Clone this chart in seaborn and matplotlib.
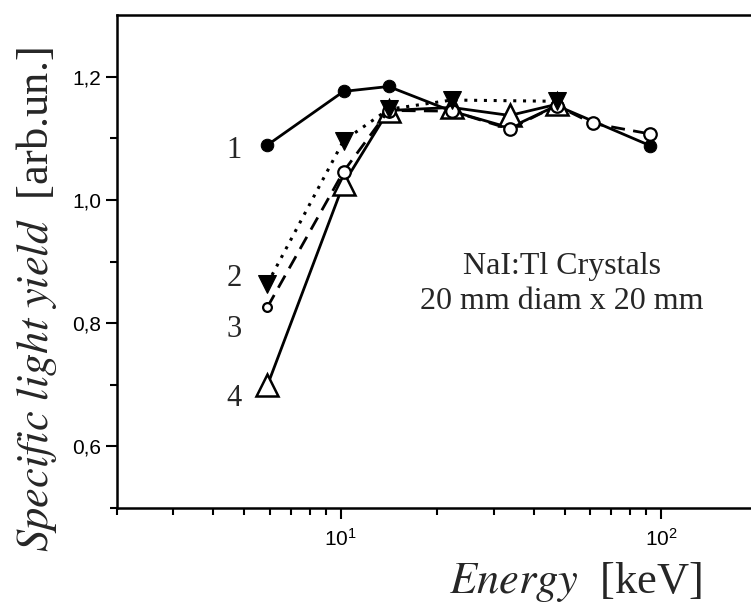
import numpy as np
import pandas as pd
import matplotlib
matplotlib.use("Agg")
import matplotlib.pyplot as plt
import matplotlib.ticker as mticker
import seaborn as sns

# ---- data ----
e1 = [5.9, 10.2, 14.1, 22.2, 33.7, 47.2, 92.5]
y1 = [1.089, 1.176, 1.184, 1.144, 1.117, 1.153, 1.088]

e2 = [5.9, 10.2, 14.1, 22.2, 47.2]
y2 = [0.864, 1.096, 1.147, 1.162, 1.160]

e3 = [5.9, 10.2, 14.1, 22.2, 33.7, 47.2, 61.3, 92.5]
y3 = [0.826, 1.046, 1.145, 1.144, 1.115, 1.153, 1.124, 1.107]

e4 = [5.9, 10.2, 14.1, 22.2, 33.7, 47.2]
y4 = [0.699, 1.026, 1.145, 1.150, 1.137, 1.155]

curve_labels = ["1", "2", "3", "4"]
curve_label_y = [1.080, 0.873, 0.790, 0.678]
curve_label_x = 4.9

annotation = "NaI:Tl Crystals\n20 mm diam x 20 mm"
yticks_major = [0.6, 0.8, 1.0, 1.2]
ytick_labels = ["0,6", "0,8", "1,0", "1,2"]
yticks_minor = [0.5, 0.7, 0.9, 1.1]

sns.set_theme(style="ticks")
plt.rcParams["font.family"] = ["Liberation Sans", "DejaVu Sans"]
plt.rcParams["mathtext.fontset"] = "stix"

fig = plt.figure(figsize=(7.51, 6.08), dpi=100)
ax = fig.add_axes([117 / 751, 100 / 608, (751 - 117) / 751, 493 / 608])

df1 = pd.DataFrame({"E": e1, "Y": y1})
df2 = pd.DataFrame({"E": e2, "Y": y2})
df3 = pd.DataFrame({"E": e3, "Y": y3})
df4 = pd.DataFrame({"E": e4, "Y": y4})

sns.lineplot(data=df4, x="E", y="Y", ax=ax, color="black", lw=2.0,
             marker="^", markersize=16, markerfacecolor="white",
             markeredgecolor="black", markeredgewidth=1.8, zorder=3)
sns.lineplot(data=df3, x="E", y="Y", ax=ax, color="black", lw=2.0,
             linestyle=(0, (5, 3)), marker="o", markersize=9,
             markevery=list(range(1, len(e3))),
             markerfacecolor="white", markeredgecolor="black",
             markeredgewidth=1.6, zorder=4)
sns.scatterplot(data=df3.iloc[:1], x="E", y="Y", ax=ax, marker="o", s=40,
                facecolor="white", edgecolor="black", linewidth=1.6, zorder=4)
sns.lineplot(data=df2, x="E", y="Y", ax=ax, color="black", lw=2.2,
             linestyle=(0, (1, 2.2)), marker="v", markersize=13,
             markerfacecolor="black", markeredgecolor="black", zorder=5)
sns.lineplot(data=df1, x="E", y="Y", ax=ax, color="black", lw=2.0,
             marker="o", markersize=9, markerfacecolor="black",
             markeredgecolor="black", zorder=2)

ax.set_xscale("log")
ax.set_xlim(2, 10 ** 2.28125)
ax.set_ylim(0.5, 1.3)

ax.xaxis.set_major_locator(mticker.LogLocator(base=10, numticks=10))
ax.xaxis.set_minor_locator(mticker.LogLocator(base=10, subs=np.arange(2, 10), numticks=20))
ax.xaxis.set_major_formatter(mticker.FuncFormatter(
    lambda v, p: r"$\mathregular{10^{%d}}$" % int(round(np.log10(v)))))
ax.xaxis.set_minor_formatter(mticker.NullFormatter())

ax.set_yticks(yticks_major)
ax.set_yticklabels(ytick_labels)
ax.yaxis.set_minor_locator(mticker.FixedLocator(yticks_minor))

ax.tick_params(axis="both", which="major", direction="out", length=8, width=1.5,
               labelsize=15, color="black", labelcolor="black")
ax.tick_params(axis="both", which="minor", direction="out", length=5, width=1.5,
               color="black")
ax.tick_params(axis="x", which="major", pad=6)

for s in ["left", "bottom", "top"]:
    ax.spines[s].set_visible(True)
    ax.spines[s].set_linewidth(1.8)
    ax.spines[s].set_color("black")
ax.spines["right"].set_visible(False)

ax.set_xlabel("")
ax.set_ylabel("")
ax.grid(False)

serif = ["Liberation Serif", "DejaVu Serif"]
ylab = r"$\mathit{Specific\ light\ yield}$  [arb.un.]"
fig.text(0.048, 0.507, ylab, rotation=90, ha="center", va="center",
         fontsize=32, family=serif)
xlab = r"$\mathit{Energy}$  [keV]"
fig.text(0.766, 0.043, xlab, ha="center", va="center", fontsize=32, family=serif)

for lab, yy in zip(curve_labels, curve_label_y):
    ax.text(curve_label_x, yy, lab, ha="right", va="center", fontsize=22,
            family=serif)

ax.text(0.702, 0.454, annotation, transform=ax.transAxes, ha="center",
        va="center", fontsize=23, family=serif, linespacing=1.25)

fig.savefig("out.png", dpi=100)
